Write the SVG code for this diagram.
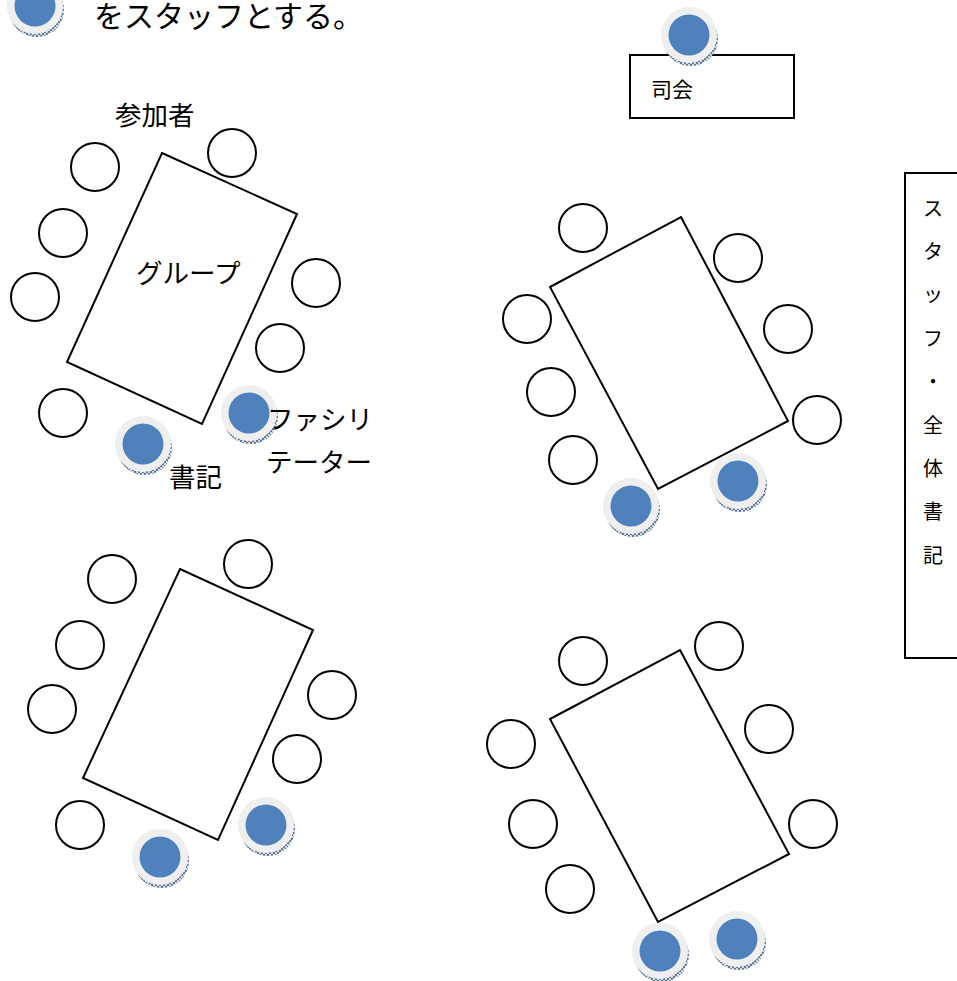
<svg xmlns="http://www.w3.org/2000/svg" xmlns:xlink="http://www.w3.org/1999/xlink" width="957" height="981" viewBox="0 0 957 981">
  <style>
    .table { fill: #ffffff; stroke: #000000; stroke-width: 2; stroke-linejoin: miter; }
    .seat { fill: #ffffff; stroke: #000000; stroke-width: 2; }
    .box { fill: #ffffff; stroke: #000000; stroke-width: 2; }
    .label { font-family: "Noto Sans CJK JP", "Noto Sans", sans-serif; fill: #000000; }
    .lg { font-size: 26.5px; }
    .sm { font-size: 21px; }
    .vt { font-size: 20px; text-anchor: middle; }
  </style>
  <defs>
    <!-- textured rim under a staff token -->
    <pattern id="rim" width="4" height="4" patternUnits="userSpaceOnUse">
      <rect width="4" height="4" fill="#d3dbe6"/>
      <path d="M0 0 L4 4 M4 0 L0 4" stroke="#2f4a70" stroke-width="0.7"/>
    </pattern>
    <!-- staff token: grey disc with blue centre, drawn at origin -->
    <g id="staff">
      <circle cx="1.5" cy="3.5" r="27.5" fill="url(#rim)"/>
      <circle cx="0" cy="0" r="28" fill="#efefef"/>
      <circle cx="0" cy="0" r="20.5" fill="#4f81bd"/>
    </g>
  </defs>

  <!-- legend -->
  <g id="legend">
    <use xlink:href="#staff" x="35" y="6"/>
    <text class="label" x="94" y="26.5" font-size="30">をスタッフとする。</text>
  </g>

  <!-- moderator -->
  <g id="moderator">
    <rect class="box" x="630" y="55" width="164" height="63"/>
    <use xlink:href="#staff" x="689" y="35"/>
    <text class="label sm" x="651" y="97">司会</text>
  </g>

  <!-- staff / overall recorder box -->
  <g id="staff-recorder">
    <rect class="box" x="905" y="173" width="70" height="485"/>
    <text class="label vt" x="933" y="216">ス</text>
    <text class="label vt" x="933" y="259">タ</text>
    <text class="label vt" x="933" y="302">ッ</text>
    <text class="label vt" x="933" y="346">フ</text>
    <text class="label vt" x="933" y="389">・</text>
    <text class="label vt" x="933" y="433">全</text>
    <text class="label vt" x="933" y="476">体</text>
    <text class="label vt" x="933" y="519">書</text>
    <text class="label vt" x="933" y="563">記</text>
  </g>

  <!-- group 1 (top left) -->
  <g id="group-1">
    <polygon class="table" points="162,153 297,214 202,424 67,362"/>
    <circle class="seat" cx="95" cy="167" r="24"/>
    <circle class="seat" cx="63" cy="233" r="24"/>
    <circle class="seat" cx="35" cy="297" r="24"/>
    <circle class="seat" cx="232" cy="153" r="24"/>
    <circle class="seat" cx="316" cy="283" r="24"/>
    <circle class="seat" cx="280" cy="348" r="24"/>
    <circle class="seat" cx="63" cy="413" r="24"/>
    <use xlink:href="#staff" x="249" y="413"/>
    <use xlink:href="#staff" x="143" y="444"/>
    <text class="label lg" x="115" y="125">参加者</text>
    <text class="label lg" x="136" y="283">グループ</text>
    <text class="label lg" x="267" y="429">ファシリ</text>
    <text class="label lg" x="266" y="472">テーター</text>
    <text class="label lg" x="169" y="487">書記</text>
  </g>

  <!-- group 2 (top right) -->
  <g id="group-2">
    <polygon class="table" points="681,217 788,421 658,489 550,287"/>
    <circle class="seat" cx="583" cy="228" r="24"/>
    <circle class="seat" cx="738" cy="258" r="24"/>
    <circle class="seat" cx="788" cy="329" r="24"/>
    <circle class="seat" cx="817" cy="420" r="24"/>
    <circle class="seat" cx="527" cy="319" r="24"/>
    <circle class="seat" cx="551" cy="392" r="24"/>
    <circle class="seat" cx="573" cy="460" r="24"/>
    <use xlink:href="#staff" x="631" y="506"/>
    <use xlink:href="#staff" x="738" y="481"/>
  </g>

  <!-- group 3 (bottom left) -->
  <g id="group-3">
    <polygon class="table" points="180,569 313,630 218,840 83,778"/>
    <circle class="seat" cx="112" cy="579" r="24"/>
    <circle class="seat" cx="248" cy="564" r="24"/>
    <circle class="seat" cx="80" cy="645" r="24"/>
    <circle class="seat" cx="52" cy="709" r="24"/>
    <circle class="seat" cx="332" cy="695" r="24"/>
    <circle class="seat" cx="297" cy="759" r="24"/>
    <circle class="seat" cx="80" cy="825" r="24"/>
    <use xlink:href="#staff" x="266" y="825"/>
    <use xlink:href="#staff" x="160" y="857"/>
  </g>

  <!-- group 4 (bottom right) -->
  <g id="group-4">
    <polygon class="table" points="680,650 789,854 658,922 550,719"/>
    <circle class="seat" cx="583" cy="661" r="24"/>
    <circle class="seat" cx="719" cy="646" r="24"/>
    <circle class="seat" cx="769" cy="729" r="24"/>
    <circle class="seat" cx="813" cy="824" r="24"/>
    <circle class="seat" cx="511" cy="744" r="24"/>
    <circle class="seat" cx="533" cy="824" r="24"/>
    <circle class="seat" cx="570" cy="889" r="24"/>
    <use xlink:href="#staff" x="660" y="951"/>
    <use xlink:href="#staff" x="737" y="939"/>
  </g>

  <!-- no connectors in this layout -->
  <g id="connectors"/>
</svg>
